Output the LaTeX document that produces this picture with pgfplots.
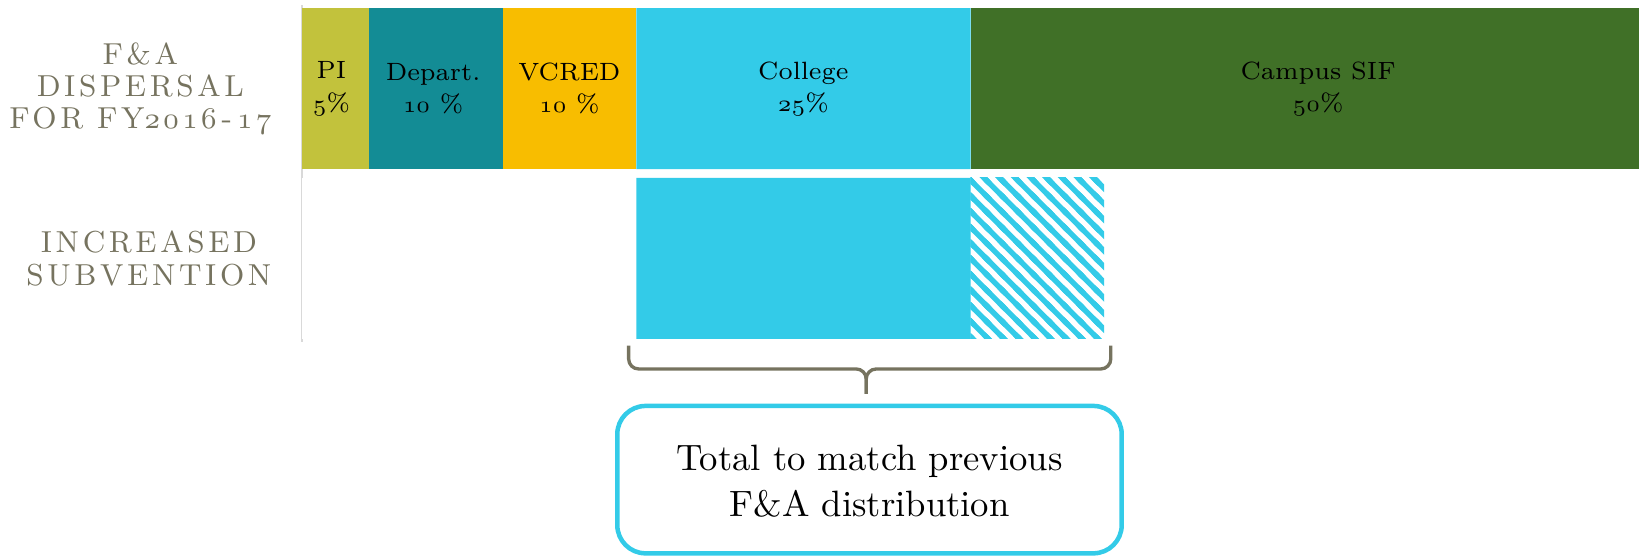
\documentclass[border=0pt]{standalone}
\usepackage{fontspec}
\usepackage{pgfplots}
\pgfplotsset{compat=1.18}
\usetikzlibrary{patterns}

% letter-spaced capitals for the row names
\newfontfamily\catfont[LetterSpace=12]{Latin Modern Roman}
% text inside the chart
\newfontfamily\bodyfont{Latin Modern Roman}
% old-style figures
\newcommand\osf[1]{\ensuremath{\mathnormal{#1}}}

% wide diagonal hatching
\pgfdeclarepatternformonly{widehatch}{\pgfqpoint{-1pt}{-1pt}}{\pgfqpoint{5.7pt}{5.7pt}}{\pgfqpoint{4.7pt}{4.7pt}}{
  \pgfsetlinewidth{1.6pt}
  \pgfpathmoveto{\pgfqpoint{-0.2pt}{4.9pt}}
  \pgfpathlineto{\pgfqpoint{4.9pt}{-0.2pt}}
  \pgfpathmoveto{\pgfqpoint{-1pt}{1pt}}
  \pgfpathlineto{\pgfqpoint{1pt}{-1pt}}
  \pgfpathmoveto{\pgfqpoint{3.7pt}{5.7pt}}
  \pgfpathlineto{\pgfqpoint{5.7pt}{3.7pt}}
  \pgfusepath{stroke}}

\definecolor{piC}{HTML}{C2C23C}
\definecolor{deptC}{HTML}{138C95}
\definecolor{vcredC}{HTML}{F8BD00}
\definecolor{collegeC}{HTML}{33CBE8}
\definecolor{campusC}{HTML}{407027}
\definecolor{labelgray}{HTML}{76735F}
\definecolor{axisgray}{HTML}{D9D9D9}

\tikzset{seglabel/.style={align=center, text=black, font=\bodyfont\fontsize{7.5}{9.7}\selectfont}}

\begin{document}
\begin{tikzpicture}
\begin{axis}[
  scale only axis,
  width=401.1pt, height=101.1pt,
  xmin=0, xmax=100,
  ymin=-0.492, ymax=1.493,
  xbar stacked,
  bar width=48.3pt,
  axis x line=none,
  axis y line*=left,
  y axis line style={draw=axisgray, line width=0.6pt, -},
  major tick length=0pt,
  ytick={0,1},
  yticklabels={{INCREASED\\SUBVENTION},{F\&A\\DISPERSAL\\FOR FY\osf{2\mkern2mu0\mkern2mu1\mkern2mu6}\,-\,\osf{1\mkern2mu7}}},
  yticklabel style={align=center, inner sep=0pt, xshift=-9pt,
    font=\catfont\fontsize{9.1}{9.7}\selectfont, text=labelgray},
  clip=false,
]
% top row: F&A dispersal; bottom row: offset, college share
\addplot[draw=none, fill=piC]      coordinates {(5,1)  (0,0)};
\addplot[draw=none, fill=deptC]    coordinates {(10,1) (0,0)};
\addplot[draw=none, fill=vcredC]   coordinates {(10,1) (0,0)};
\addplot[draw=none, fill=white]    coordinates {(0,1)  (25,0)};
\addplot[draw=none, fill=collegeC] coordinates {(25,1) (25,0)};
\addplot[draw=none, fill=campusC]  coordinates {(50,1) (0,0)};
% increase needed to restore the previous total (hatched)
\addplot[draw=none, pattern=widehatch, pattern color=collegeC]
                                   coordinates {(0,1)  (10,0)};

% anchor points for the segment labels
\coordinate (lpi)   at (axis cs:2.2,1);
\coordinate (ldep)  at (axis cs:9.8,1);
\coordinate (lvc)   at (axis cs:20,1);
\coordinate (lcol)  at (axis cs:37.5,1);
\coordinate (lcamp) at (axis cs:76,1);
\coordinate (lbox)  at (axis cs:42.45,-1.31);

% bracket under the bottom row
\draw[labelgray, line width=1pt, rounded corners=3pt]
  (axis cs:24.43,-0.5135) -- (axis cs:24.43,-0.651) -- (axis cs:42.2,-0.651) -- (axis cs:42.2,-0.798);
\draw[labelgray, line width=1pt, rounded corners=3pt]
  (axis cs:60.49,-0.5135) -- (axis cs:60.49,-0.651) -- (axis cs:42.2,-0.651) -- (axis cs:42.2,-0.798);

% callout box
\draw[collegeC, line width=1.35pt, rounded corners=8.5pt, fill=white]
  (axis cs:23.58,-0.8687) rectangle (axis cs:61.31,-1.737);

\coordinate (bbsw) at (axis cs:-22.59,-1.758);
\coordinate (bbne) at (axis cs:100,1.5224);
\end{axis}

% segment labels and callout text
\node[seglabel] at (lpi)   {PI\\\osf{5}\%};
\node[seglabel] at (ldep)  {Depart.\\\osf{10} \%};
\node[seglabel] at (lvc)   {VCRED\\\osf{10} \%};
\node[seglabel] at (lcol)  {College\\\osf{25}\%};
\node[seglabel] at (lcamp) {Campus SIF\\\osf{50}\%};
\node[align=center, text=black, font=\bodyfont\fontsize{11}{13.7}\selectfont]
  at (lbox) {Total to match previous\\F\&A distribution};

\pgfresetboundingbox
\path[use as bounding box] (bbsw) rectangle (bbne);
\end{tikzpicture}
\end{document}
